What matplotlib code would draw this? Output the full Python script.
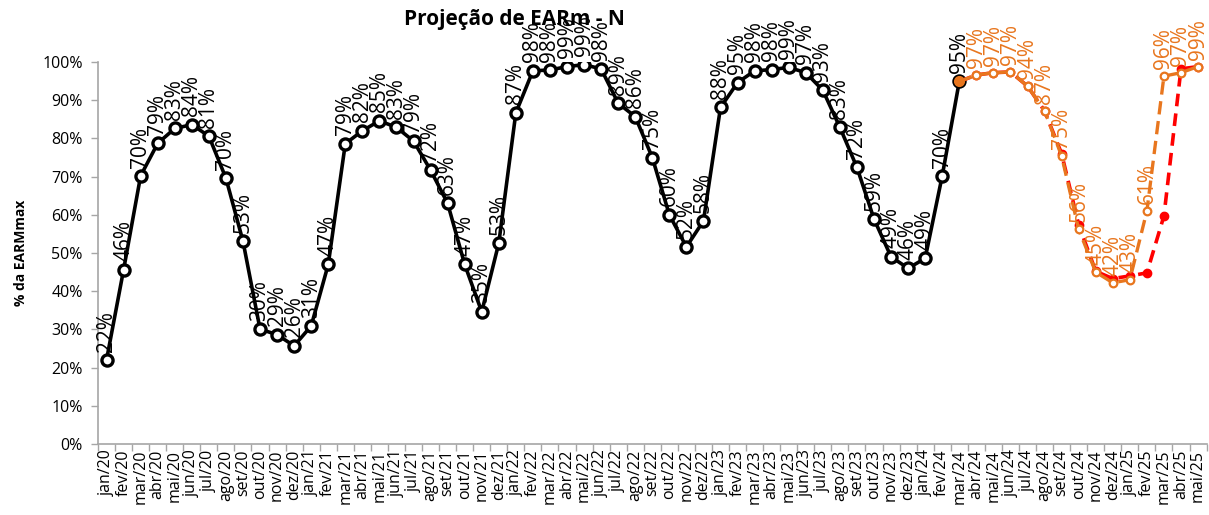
import numpy as np
import matplotlib as mpl
import matplotlib.pyplot as plt
from matplotlib.ticker import FixedLocator, PercentFormatter

mpl.rcParams["font.family"] = ["Open Sans", "DejaVu Sans"]

MONTHS = ["jan", "fev", "mar", "abr", "mai", "jun",
          "jul", "ago", "set", "out", "nov", "dez"]
CATEGORIES = [f"{m}/{y}" for y in range(20, 26) for m in MONTHS][:65]

# realizado, jan/20 .. mar/24
HIST = [22.0, 45.6, 70.2, 78.7, 82.6, 83.6, 80.6, 69.6, 53.1, 30.1, 28.6, 25.7,
        30.9, 47.0, 78.6, 82.0, 84.6, 82.9, 79.3, 71.7, 63.0, 47.0, 34.6, 52.6,
        86.7, 97.7, 97.9, 98.8, 99.3, 98.2, 89.2, 85.7, 75.0, 60.0, 51.6, 58.4,
        88.1, 94.6, 97.7, 98.0, 98.6, 97.2, 92.6, 82.9, 72.4, 58.9, 49.0, 46.0,
        48.6, 70.2, 94.9]

# projecoes, mar/24 .. mai/25
PROJ_ORANGE = [94.9, 96.6, 97.2, 97.4, 93.7, 87.2, 75.4, 56.2, 45.0, 42.2,
               43.0, 61.0, 96.3, 97.2, 98.8]
PROJ_RED = [94.9, 96.6, 97.2, 97.4, 93.7, 87.2, 76.0, 57.4, 45.2, 43.3,
            44.0, 44.8, 59.7, 98.2, 98.8]

BLACK = "#000000"
ORANGE = "#E8761E"
RED = "#FF0000"
GREY = "#A6A6A6"

fig = plt.figure(figsize=(12.09, 5.15), dpi=100)
ax = fig.add_axes([98 / 1209, 1 - 444 / 515, 1 - 98 / 1209 - 0.002, (444 - 62) / 515])

x_hist = np.arange(len(HIST))
x_proj = np.arange(len(HIST) - 1, len(HIST) - 1 + len(PROJ_ORANGE))

ax.plot(x_hist, np.array(HIST) / 100, color=BLACK, lw=2.6, marker="o", ms=8,
        mfc="white", mec=BLACK, mew=2.4, zorder=3)
ax.plot(x_proj, np.array(PROJ_RED) / 100, color=RED, lw=2.6, ls=(0, (3.5, 2)),
        marker="o", ms=6, mfc=RED, mec=RED, zorder=4)
ax.plot(x_proj, np.array(PROJ_ORANGE) / 100, color=ORANGE, lw=2.4, ls=(0, (4, 2)),
        marker="o", ms=5.5, mfc="white", mec=ORANGE, mew=1.6, zorder=5)
ax.plot(x_proj[:1], np.array(PROJ_ORANGE[:1]) / 100, ls="none", marker="o", ms=7,
        mfc=ORANGE, mec=ORANGE, zorder=6)

for xi, v in zip(x_hist, HIST):
    ax.annotate(f"{v:.0f}%", (xi, v / 100), xytext=(0, 6), textcoords="offset points",
                rotation=90, ha="center", va="bottom", fontsize=15, color=BLACK,
                zorder=7, annotation_clip=False)
for xi, v in zip(x_proj[1:], PROJ_ORANGE[1:]):
    ax.annotate(f"{v:.0f}%", (xi, v / 100), xytext=(0, 5), textcoords="offset points",
                rotation=90, ha="center", va="bottom", fontsize=15, color=ORANGE,
                zorder=7, annotation_clip=False)

ax.set_xlim(-0.5, len(CATEGORIES) - 0.5)
ax.set_ylim(0, 1)
ax.yaxis.set_major_locator(FixedLocator(np.arange(0, 1.01, 0.1)))
ax.yaxis.set_major_formatter(PercentFormatter(1.0, decimals=0))

ax.xaxis.set_major_locator(FixedLocator(np.arange(-0.5, len(CATEGORIES), 1.0)))
ax.xaxis.set_major_formatter(plt.NullFormatter())
ax.xaxis.set_minor_locator(FixedLocator(np.arange(len(CATEGORIES))))
ax.set_xticklabels(CATEGORIES, minor=True, rotation=90, fontsize=11.5)
ax.tick_params(axis="x", which="minor", length=0, pad=4)
ax.tick_params(axis="x", which="major", length=5, color=GREY, width=1)
ax.tick_params(axis="y", length=5, color=GREY, width=1, labelsize=11.5, pad=6)

for side in ("top", "right"):
    ax.spines[side].set_visible(False)
for side in ("left", "bottom"):
    ax.spines[side].set_color(GREY)
    ax.spines[side].set_linewidth(1.2)

ax.set_ylabel("% da EARMmax", fontsize=10, fontweight="bold", labelpad=10)
fig.text(514 / 1209, 1 - 20 / 515, "Projeção de EARm - N", ha="center", va="center",
         fontsize=15, fontweight="bold", zorder=0)

fig.savefig("out.png", dpi=100)
